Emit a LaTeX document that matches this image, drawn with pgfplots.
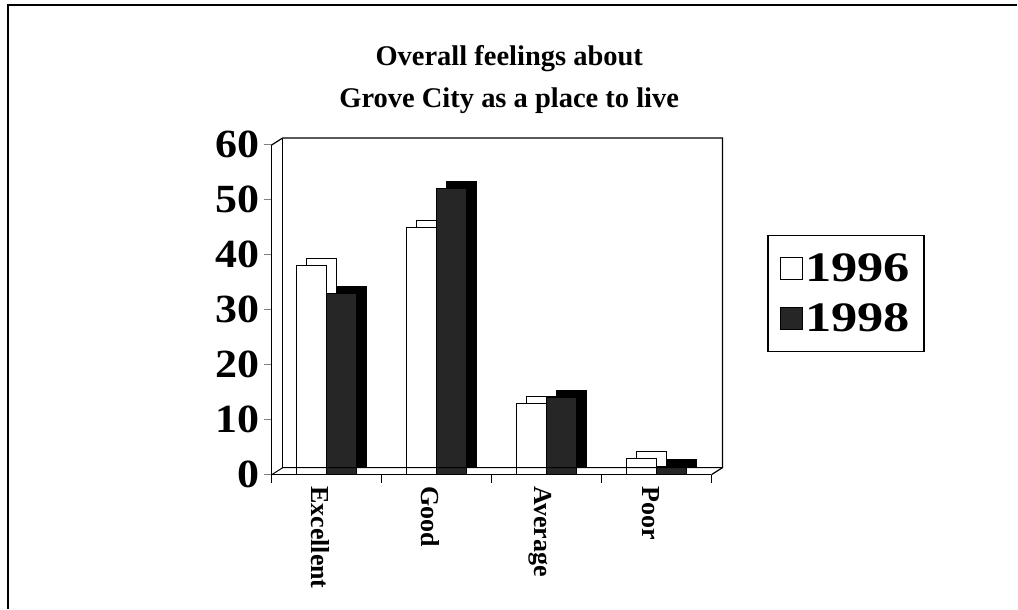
\documentclass[border=0pt]{standalone}
\usepackage{pgfplots}
\pgfplotsset{compat=1.18}
\usepackage{fontspec}
\setmainfont{Liberation Serif}
\begin{document}
\begin{tikzpicture}[x=1pt,y=1pt]
\begin{axis}[
  scale only axis,
  width=440pt, height=330pt,
  xmin=-0.5, xmax=3.5,
  ymin=0, ymax=60,
  ytick={0,10,20,30,40,50,60},
  xtick={0,1,2,3},
  xticklabels={Excellent,Good,Average,Poor},
  minor xtick={-0.5,0.5,1.5,2.5,3.5},
  axis x line*=bottom,
  axis y line*=left,
  axis line style={line width=1.2pt,-},
  tick align=outside,
  major tick length=8pt,
  minor tick length=8pt,
  x tick style={draw=none},
  minor x tick style={draw=black,line width=1pt},
  y tick style={line width=1pt},
  /pgf/number format/assume math mode=true,
  yticklabel={\scalebox{1.1}[1]{\pgfmathprintnumber{\tick}}},
  yticklabel style={font=\fontsize{40}{40}\selectfont\bfseries, xshift=-1pt},
  xticklabel style={rotate=-90, anchor=west, font=\fontsize{26}{26}\selectfont\bfseries, xshift=0pt, yshift=-6pt},
  clip=false,
  title={Overall feelings about\\Grove City as a place to live},
  title style={font=\fontsize{28.5}{42}\selectfont\bfseries, align=center, at={(rel axis cs:0.54,1.065)}, anchor=south},
  legend style={at={(rel axis cs:1.127,0.727)}, anchor=north west, draw=black, line width=1.5pt,
    font=\fontsize{42}{42}\selectfont\bfseries, inner xsep=12pt, inner ysep=16pt, row sep=17pt,
    /tikz/every even column/.append style={column sep=6pt}},
  legend cell align=left,
  legend image code/.code={\draw[#1, line width=1pt] (0pt,-11pt) rectangle (22pt,11pt);},
]
% back (depth) copies
\addplot[ybar, bar width=30pt, bar shift=-15pt, fill=white, draw=black, line width=1pt, xshift=10pt, yshift=7pt, forget plot]
  coordinates {(0,38) (1,45) (2,13) (3,3)};
\addplot[ybar, bar width=30pt, bar shift=-15pt, fill=white, draw=black, line width=1pt]
  coordinates {(0,38) (1,45) (2,13) (3,3)};
\addplot[ybar, bar width=30pt, bar shift=15pt, fill=black, draw=black, line width=1pt, xshift=10pt, yshift=7pt, forget plot]
  coordinates {(0,33) (1,52) (2,14) (3,1.5)};
\addplot[ybar, bar width=30pt, bar shift=15pt, fill=black!85, draw=black, line width=1pt]
  coordinates {(0,33) (1,52) (2,14) (3,1.5)};
\legend{\scalebox{1.25}[1]{1996},\scalebox{1.25}[1]{1998}}
% 3D walls and floor
\draw[line width=1.2pt] (rel axis cs:0,1) -- ([xshift=11pt,yshift=7pt]rel axis cs:0,1) -- ([xshift=11pt,yshift=7pt]rel axis cs:1,1) -- ([xshift=11pt,yshift=7pt]rel axis cs:1,0) -- (rel axis cs:1,0);
\draw[line width=1.2pt] ([xshift=11pt,yshift=7pt]rel axis cs:0,0) -- ([xshift=11pt,yshift=7pt]rel axis cs:0,1);
\draw[line width=1pt] (rel axis cs:0,0) -- ([xshift=11pt,yshift=7pt]rel axis cs:0,0) -- ([xshift=11pt,yshift=7pt]rel axis cs:1,0);
\end{axis}
% outer frame of the scanned page
\draw[line width=1.5pt] (-264pt,-134pt) -- (-264pt,470pt) -- (746pt,470pt);
\path[use as bounding box] (-272pt,-134pt) rectangle (746pt,475pt);
\end{tikzpicture}
\end{document}
